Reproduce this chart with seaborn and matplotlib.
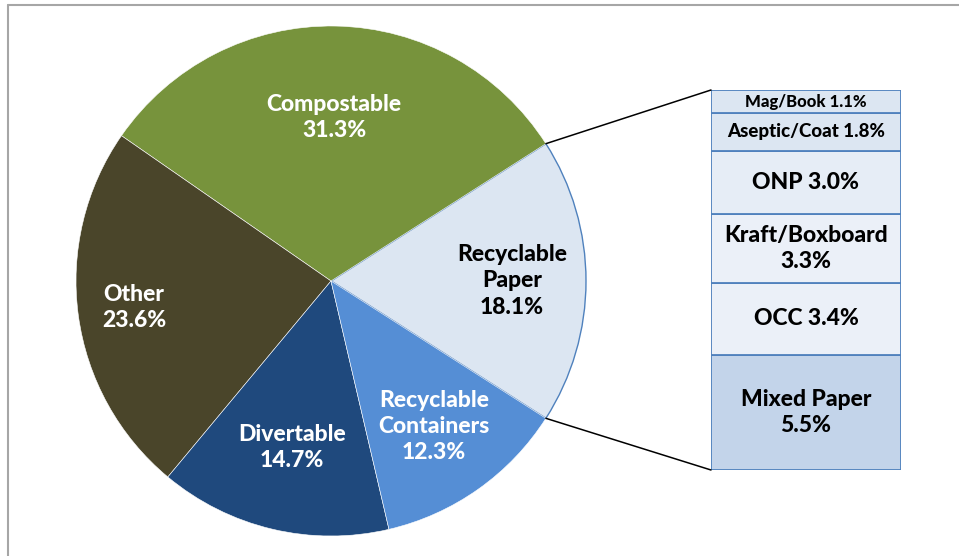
import numpy as np
import matplotlib
matplotlib.use("Agg")
import matplotlib.pyplot as plt
from matplotlib.patches import ConnectionPatch
from matplotlib.lines import Line2D
import seaborn as sns

# main pie (counter-clockwise, starting with the exploded slice on the right)
pie_names = ["Recyclable\nPaper", "Compostable", "Other", "Divertable", "Recyclable\nContainers"]
pie_values = [18.1, 31.3, 23.6, 14.7, 12.3]
pie_colors = ["#DCE6F2", "#77933C", "#4A452A", "#1F497D", "#558ED5"]
pie_text_colors = ["black", "white", "white", "white", "white"]

# breakdown of recyclable paper, bottom to top
bar_names = ["Mixed Paper", "OCC", "Kraft/Boxboard", "ONP", "Aseptic/Coat", "Mag/Book"]
bar_values = [5.5, 3.4, 3.3, 3.0, 1.8, 1.1]
bar_colors = ["#C3D4EA", "#EBF0F8", "#EBF0F8", "#E6EDF6", "#DCE6F2", "#DCE6F2"]

sns.set_theme(style="white")
plt.rcParams["font.family"] = ["Lato", "DejaVu Sans"]

W, H = 959, 556
fig = plt.figure(figsize=(W / 100, H / 100), dpi=100)

# pie axes
cx, cy, r = 331, 281, 255
ax_pie = fig.add_axes([(cx - r) / W, (H - cy - r) / H, 2 * r / W, 2 * r / H])
start = -pie_values[0] / 100 * 360 / 2
wedges, _ = ax_pie.pie(pie_values, colors=pie_colors, startangle=start, counterclock=True,
                       wedgeprops=dict(edgecolor="white", linewidth=0.4))
wedges[0].set_edgecolor("#4F81BD")
wedges[0].set_linewidth(1.0)
ax_pie.set_xlim(-1, 1)
ax_pie.set_ylim(-1, 1)
ax_pie.set_aspect("equal")
ax_pie.axis("off")

label_r = [0.71, 0.64, 0.78, 0.67, 0.70]
for w, name, val, tc, lr in zip(wedges, pie_names, pie_values, pie_text_colors, label_r):
    mid = np.deg2rad((w.theta1 + w.theta2) / 2)
    ax_pie.text(lr * np.cos(mid), lr * np.sin(mid), f"{name}\n{val:.1f}%",
                ha="center", va="center", color=tc, fontsize=16.5, fontweight="black",
                linespacing=1.3)

# stacked bar axes
bx0, bx1, by0, by1 = 711, 901, 90, 470
ax_bar = fig.add_axes([bx0 / W, (H - by1) / H, (bx1 - bx0) / W, (by1 - by0) / H])
total = sum(bar_values)
bottom = 0
for name, val, col in zip(bar_names, bar_values, bar_colors):
    ax_bar.bar(0, val, bottom=bottom, width=1.0, color=col, edgecolor="#4F81BD", linewidth=1.3)
    if name in ("Kraft/Boxboard", "Mixed Paper"):
        txt = f"{name}\n{val:.1f}%"
    else:
        txt = f"{name} {val:.1f}%"
    fs = 16.5 if val >= 3 else (13.5 if val >= 1.5 else 12)
    ax_bar.text(0, bottom + val / 2, txt, ha="center", va="center", fontsize=fs,
                fontweight="black", color="black", linespacing=1.3)
    bottom += val
ax_bar.set_xlim(-0.5, 0.5)
ax_bar.set_ylim(0, total)
ax_bar.axis("off")

# connector lines from the paper wedge edges to the bar corners
w0 = wedges[0]
for ang, yb in [(w0.theta2, total), (w0.theta1, 0)]:
    a = np.deg2rad(ang)
    con = ConnectionPatch(xyA=(np.cos(a), np.sin(a)), coordsA=ax_pie.transData,
                          xyB=(-0.5, yb), coordsB=ax_bar.transData,
                          color="black", linewidth=1.1)
    fig.add_artist(con)

# chart frame (only left and top edges visible)
fig.add_artist(Line2D([8 / W, 8 / W], [0, 1 - 4.5 / H], transform=fig.transFigure,
                      color="#A6A6A6", linewidth=1.5))
fig.add_artist(Line2D([8 / W, 1], [1 - 4.5 / H, 1 - 4.5 / H], transform=fig.transFigure,
                      color="#A6A6A6", linewidth=1.5))

fig.savefig("out.png", dpi=100)
